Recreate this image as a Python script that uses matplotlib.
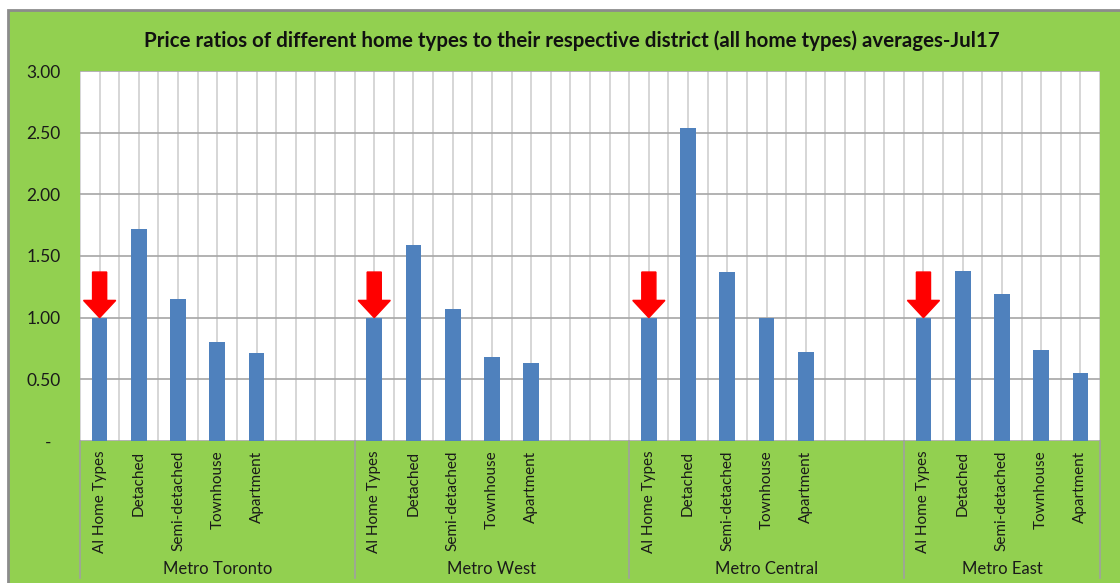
import numpy as np
import matplotlib
matplotlib.use('Agg')
import matplotlib.pyplot as plt
from matplotlib.patches import Rectangle, FancyArrow
from matplotlib.transforms import blended_transform_factory

plt.rcParams['font.family'] = ['Lato', 'DejaVu Sans']

districts = ['Metro Toronto', 'Metro West', 'Metro Central', 'Metro East']
home_types = ['Al Home Types', 'Detached', 'Semi-detached', 'Townhouse', 'Apartment']
toronto = [1.00, 1.72, 1.15, 0.80, 0.71]
west = [1.00, 1.59, 1.07, 0.68, 0.63]
central = [1.00, 2.54, 1.37, 1.00, 0.72]
east = [1.00, 1.38, 1.19, 0.74, 0.55]
series = [toronto, west, central, east]
group_slots = [7, 7, 7, 5]

green = '#92D050'
blue = '#4F81BD'

fig = plt.figure(figsize=(11.2, 5.83), dpi=100)
fig.patch.set_facecolor('white')
fig.patches.append(Rectangle((8 / 1120, -0.01), 1.0, (583 - 10) / 583 + 0.01,
                             transform=fig.transFigure, facecolor=green,
                             edgecolor='#8C8C8C', linewidth=2, zorder=-10))

ax = fig.add_axes([80 / 1120, (583 - 441) / 583, 1020 / 1120, 370 / 583])
ax.set_facecolor('white')

positions, labels, starts = [], [], []
start = 0
for vals, slots in zip(series, group_slots):
    starts.append(start)
    for j, v in enumerate(vals):
        positions.append(start + j)
        labels.append(home_types[j])
    start += slots
total = start
heights = [v for vals in series for v in vals]

ax.bar(positions, heights, width=0.4, color=blue, zorder=3)

ax.set_xlim(-0.5, total - 0.5)
ax.set_ylim(0, 3.0)
ax.set_xticks(positions)
ax.set_xticklabels(labels, rotation=90, fontsize=11, va='top', color='#1A1A1A')
ax.set_xticks(np.arange(-0.5, total, 0.5), minor=True)
ax.tick_params(axis='x', which='both', length=0, pad=7)
yt = np.arange(0, 3.01, 0.5)
ax.set_yticks(yt)
ax.set_yticklabels(['-  '] + [f'{t:.2f}' for t in yt[1:]], fontsize=12.5, color='#1A1A1A')
ax.tick_params(axis='y', length=0, pad=14)
ax.grid(axis='x', which='both', color='#CFCFCF', linewidth=1.2, zorder=0)
ax.grid(axis='y', which='major', color='#A6A6A6', linewidth=1.2, zorder=1)
for s in ax.spines.values():
    s.set_visible(False)

# red arrows over "all home types" bars
for st in starts:
    ax.add_patch(FancyArrow(st, 1.37, 0, -0.37, width=0.36, head_width=0.82,
                            head_length=0.14, length_includes_head=True,
                            color='#FF0000', zorder=4))

# group separators and labels
tr = blended_transform_factory(ax.transData, ax.transAxes)
edges = starts + [total]
for e in edges:
    ax.plot([e - 0.5, e - 0.5], [0, -0.37], transform=tr, color='#A0A0A0',
            linewidth=1.2, clip_on=False)
for name, st, slots in zip(districts, starts, group_slots):
    ax.text(st - 0.5 + slots / 2, -0.345, name, transform=tr, ha='center',
            va='center', fontsize=12, color='#1A1A1A')

fig.text(0.511, 0.931, 'Price ratios of different home types to their respective district '
         '(all home types) averages-Jul17', ha='center', va='center',
         fontsize=14.8, fontweight='bold', color='#111111')

fig.savefig('out.png', dpi=100)
